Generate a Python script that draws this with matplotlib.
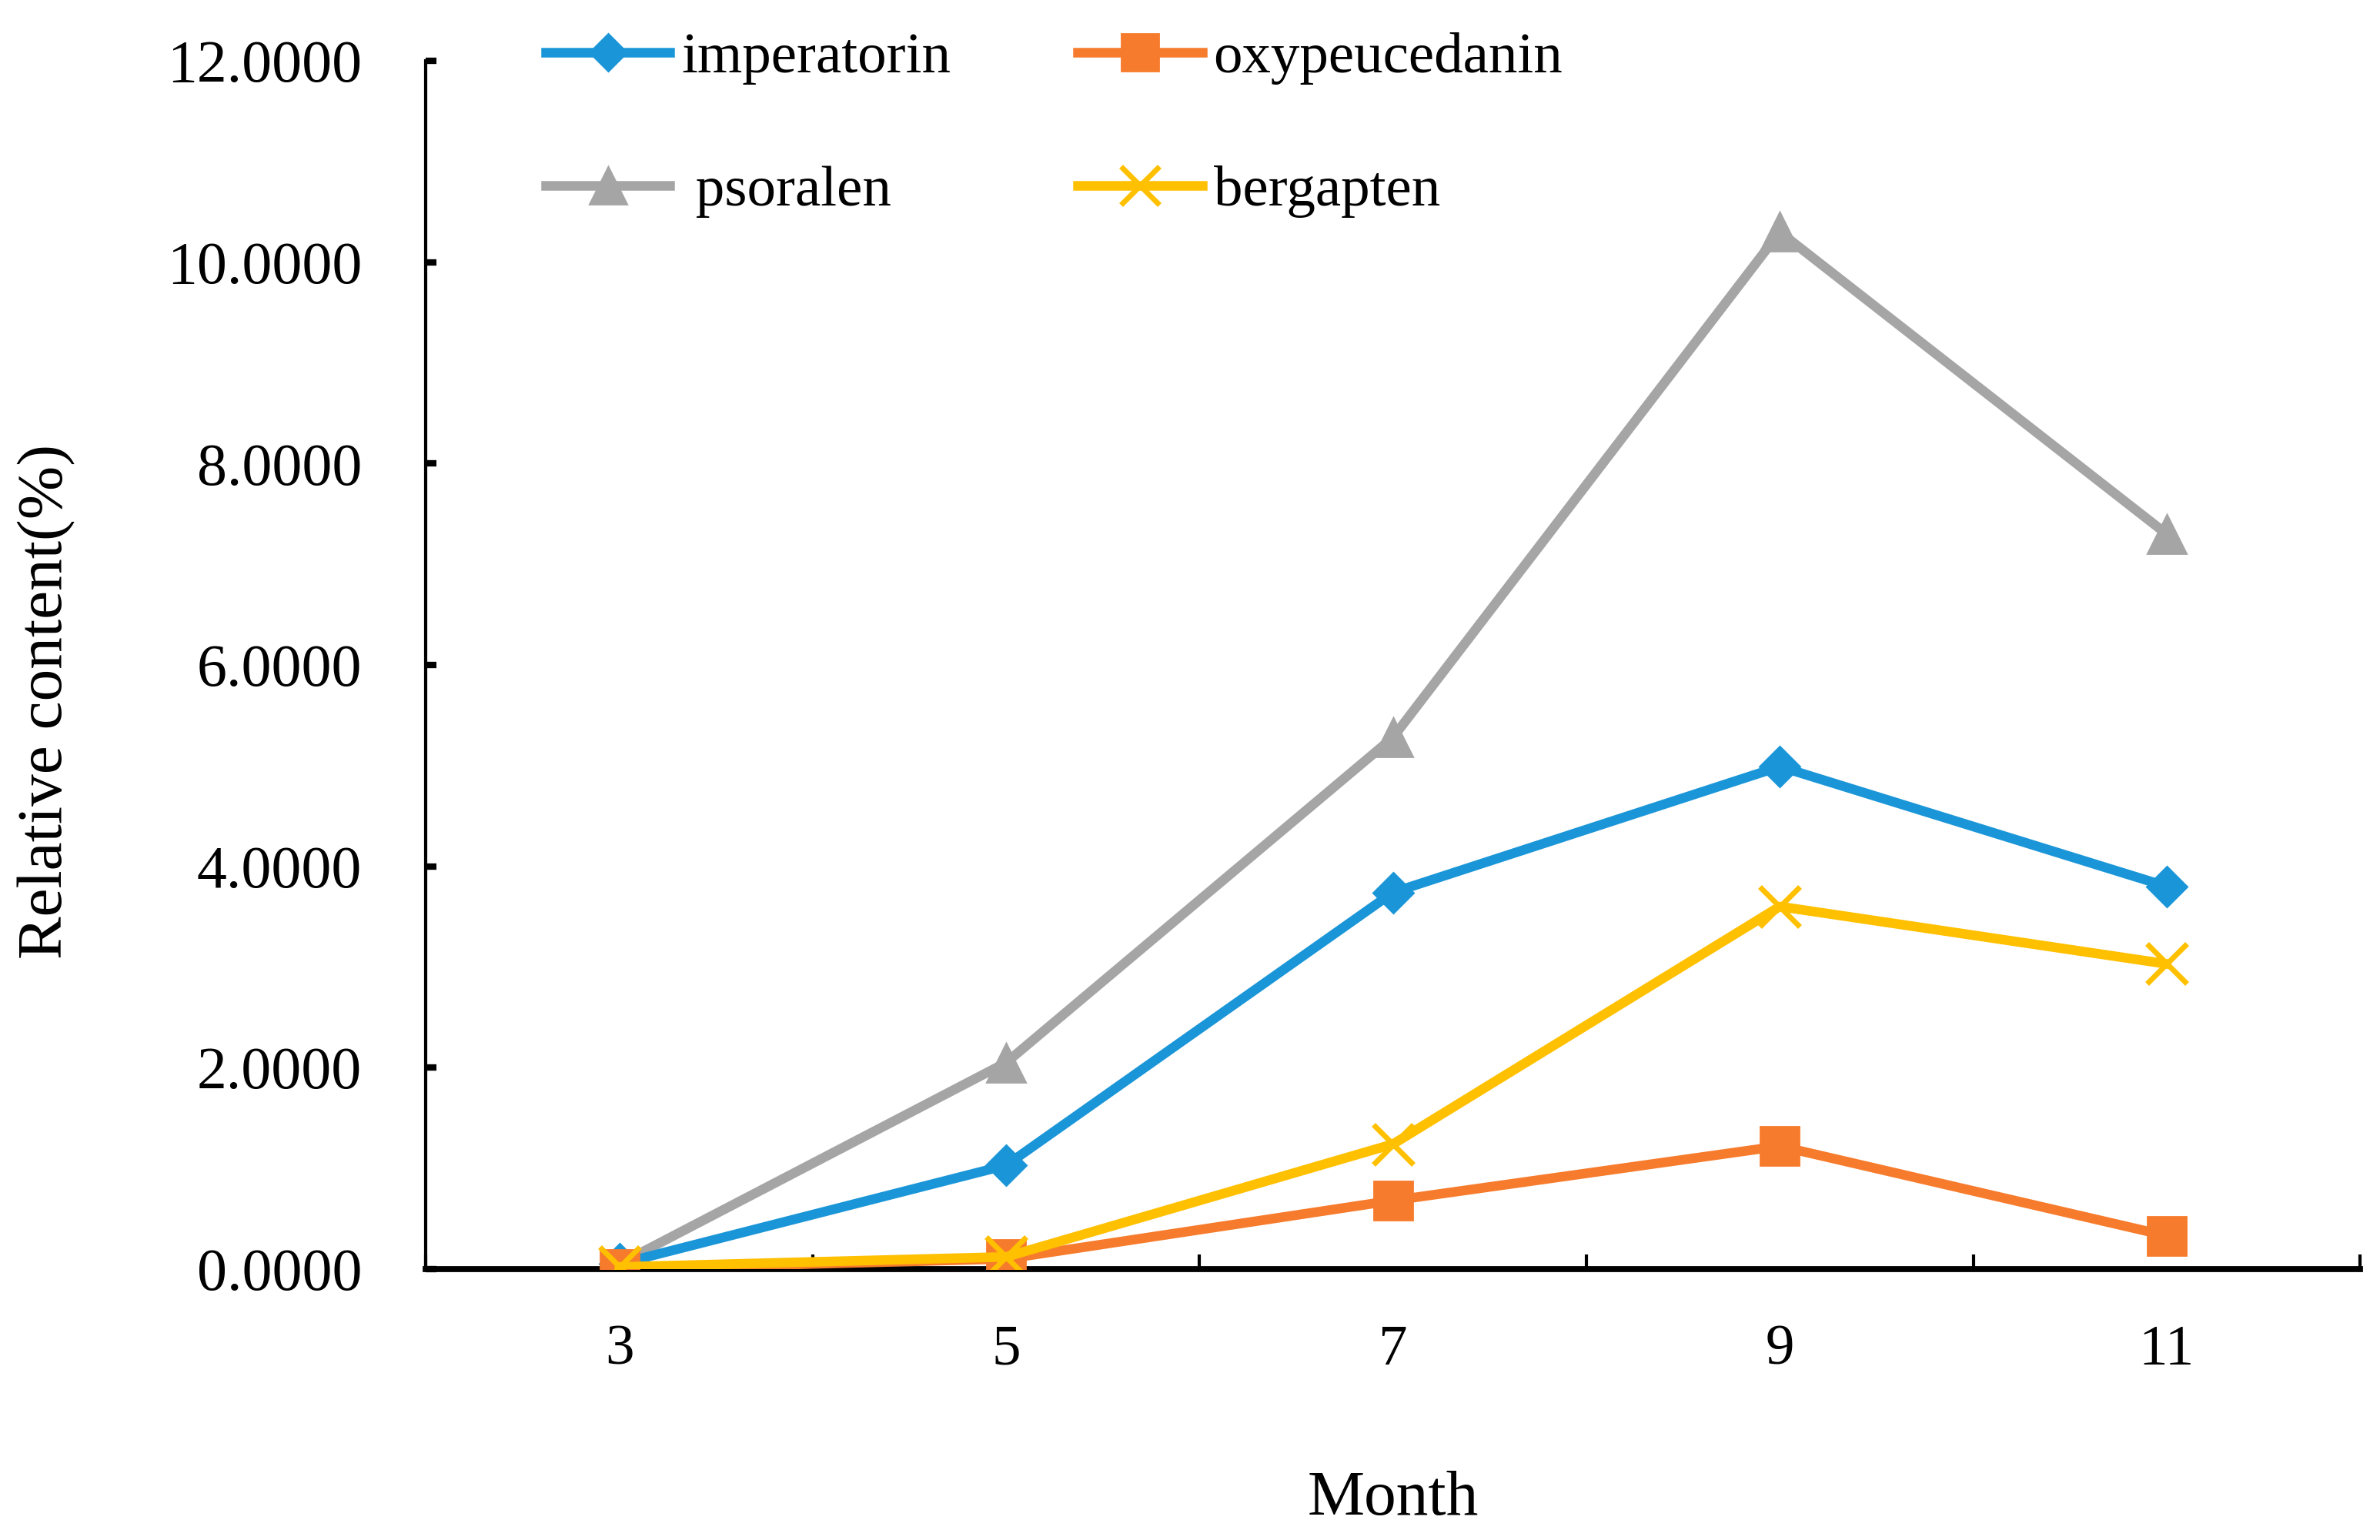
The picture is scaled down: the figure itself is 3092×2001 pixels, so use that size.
import matplotlib.pyplot as plt
import numpy as np

plt.rcParams['font.family'] = ['Liberation Serif', 'DejaVu Serif']

# Data
months = ['3', '5', '7', '9', '11']
imperatorin = [0.05, 1.03, 3.74, 4.99, 3.80]
oxypeucedanin = [0.00, 0.10, 0.68, 1.22, 0.33]
psoralen = [0.05, 2.05, 5.28, 10.30, 7.30]
bergapten = [0.02, 0.12, 1.24, 3.60, 3.03]

x = np.arange(len(months))

fig = plt.figure(figsize=(15.46, 10.005), dpi=200)
ax = fig.add_axes([0.179, 0.176, 0.8126, 0.7845])

lw = 4.5
ax.plot(x, psoralen, '-^', color='#A5A5A5', lw=lw, markersize=18, label=' psoralen', zorder=3)
ax.plot(x, imperatorin, '-D', color='#1A96D8', lw=lw, markersize=13, label='imperatorin', zorder=4)
ax.plot(x, bergapten, '-x', color='#FFC000', lw=lw, markersize=19, markeredgewidth=2.5,
        label='bergapten', zorder=5)
ax.plot(x, oxypeucedanin, '-s', color='#F77B2C', lw=lw, markersize=18, label='oxypeucedanin', zorder=4)

ax.set_xlim(-0.5, len(months) - 0.5)
ax.set_ylim(0, 12)
ax.set_yticks(np.arange(0, 12.1, 2))
ax.set_yticklabels([f'{v:.4f}' for v in np.arange(0, 12.1, 2)])

# category labels centred, tick marks on boundaries (Excel style)
ax.set_xticks(np.arange(-0.5, len(months), 1.0))
ax.set_xticklabels([])
ax.set_xticks(x, minor=True)
ax.set_xticklabels(months, minor=True)
ax.tick_params(axis='x', which='minor', length=0, pad=26, labelsize=27)
ax.tick_params(axis='x', which='major', direction='in', length=7, width=1.5)
ax.tick_params(axis='y', direction='in', length=5, width=3, pad=30, labelsize=28)

for s in ['top', 'right']:
    ax.spines[s].set_visible(False)
ax.spines['left'].set_linewidth(1.5)
ax.spines['bottom'].set_linewidth(2.8)
ax.spines['bottom'].set_zorder(2)

ax.set_xlabel('Month', fontsize=30, labelpad=44)
ax.set_ylabel('Relative content(%)', fontsize=30)
ax.yaxis.set_label_coords(-0.181, 0.47)

handles, labels = ax.get_legend_handles_labels()
order = ['imperatorin', ' psoralen', 'oxypeucedanin', 'bergapten']
hl = {l: h for h, l in zip(handles, labels)}
leg = fig.legend([hl[o] for o in order], order, ncol=2, frameon=False,
                 loc='upper left', bbox_to_anchor=(0.2075, 1.013), fontsize=27,
                 handlelength=2.15, handletextpad=0.2, columnspacing=2.2,
                 labelspacing=1.4, markerscale=0.95)

fig.savefig('out.png', dpi=200, facecolor='white')
